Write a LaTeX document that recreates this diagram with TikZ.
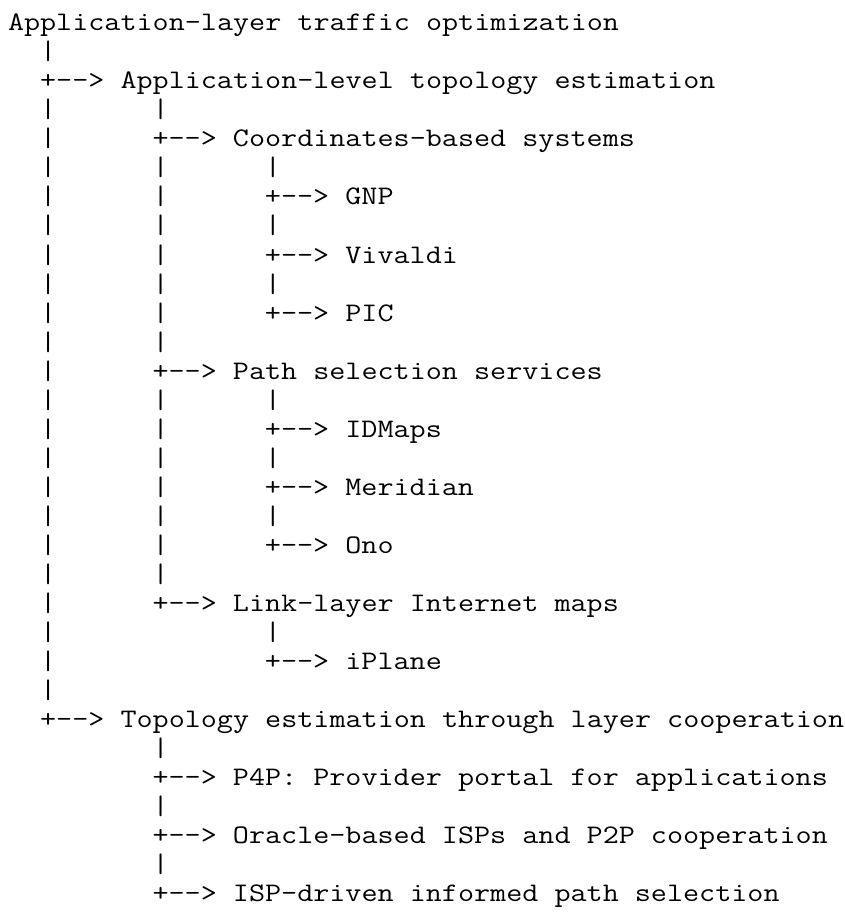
\documentclass[tikz,border=0pt]{standalone}
\usepackage{fontspec}
\usepackage{graphicx}
% typewriter face with serifs, widened to a 16.06pt character cell
\newcommand\asciitext[1]{\scalebox{1.1663}[1]{#1}}
\begin{document}
\begin{tikzpicture}[x=16.06pt, y=-29.04pt,
  ascii/.style={anchor=base west, inner sep=0pt, outer sep=0pt,
    font={\ttfamily\fontsize{26.77pt}{29pt}\selectfont}}]
  % page frame
  \fill[white] (0pt,0pt) rectangle (845pt,-916pt);
  \useasboundingbox (0pt,0pt) rectangle (845pt,-916pt);
  % text grid: one unit = one character cell, one row = one text line
  \begin{scope}[shift={(8pt,-30.7pt)}]
    \node[ascii] (root) at (0,0) {\asciitext{Application-layer traffic optimization}};
    % tree branches with their labels
    \foreach \nm/\c/\r/\txt in {
        ale/2/2/{Application-level topology estimation},
        cbs/9/4/{Coordinates-based systems},
        gnp/16/6/{GNP},
        viv/16/8/{Vivaldi},
        pic/16/10/{PIC},
        pss/9/12/{Path selection services},
        idm/16/14/{IDMaps},
        mer/16/16/{Meridian},
        ono/16/18/{Ono},
        lim/9/20/{Link-layer Internet maps},
        ipl/16/22/{iPlane},
        tel/2/24/{Topology estimation through layer cooperation},
        pfp/9/26/{P4P: Provider portal for applications},
        obi/9/28/{Oracle-based ISPs and P2P cooperation},
        isp/9/30/{ISP-driven informed path selection}}
      \node[ascii] (\nm) at (\c,\r) {\asciitext{+-{}-> \txt}};
    % vertical bars, first level
    \foreach \r in {1,3,4,...,23}
      \node[ascii] (bar-2-\r) at (2,\r) {\asciitext{|}};
    % vertical bars, second level
    \foreach \r in {3,5,6,...,11,13,14,...,19,25,27,29}
      \node[ascii] (bar-9-\r) at (9,\r) {\asciitext{|}};
    % vertical bars, third level
    \foreach \r in {5,7,9,13,15,17,21}
      \node[ascii] (bar-16-\r) at (16,\r) {\asciitext{|}};
  \end{scope}
\end{tikzpicture}
\end{document}
